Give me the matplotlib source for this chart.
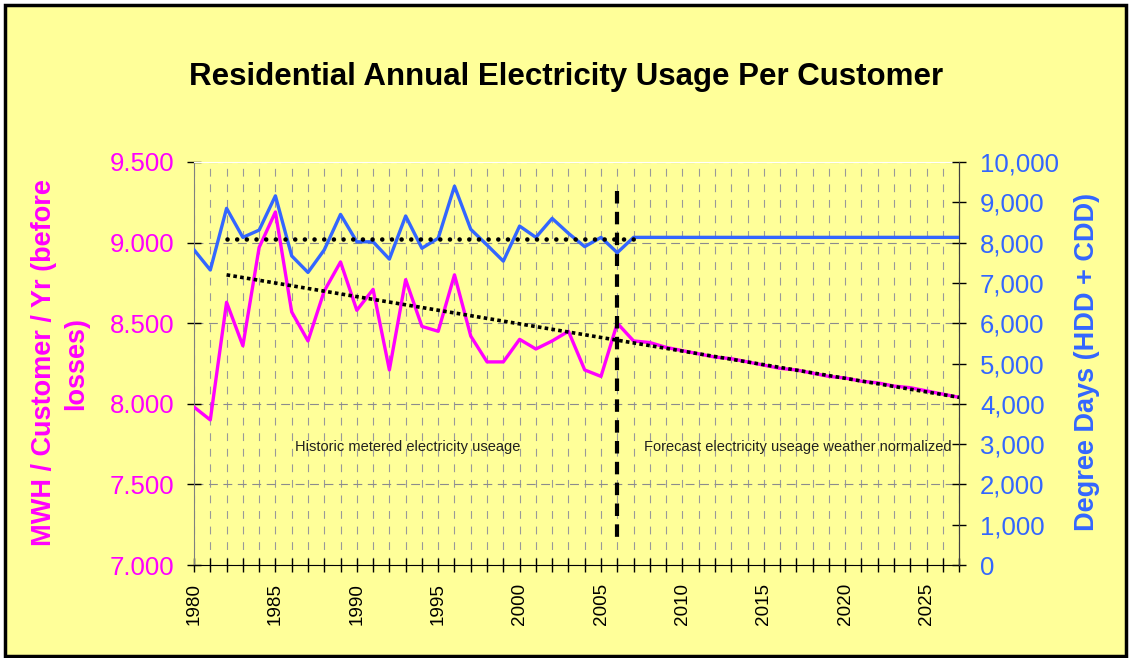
import matplotlib
matplotlib.use("Agg")
import matplotlib.pyplot as plt
from matplotlib.patches import Rectangle
from matplotlib.ticker import FuncFormatter

plt.rcParams['font.family'] = ['Liberation Sans', 'DejaVu Sans']

# data
years = list(range(1980, 2028))
usage = [7.98, 7.90, 8.63, 8.36, 8.97, 9.19, 8.57, 8.39, 8.70, 8.88,
         8.58, 8.71, 8.21, 8.77, 8.48, 8.45, 8.80, 8.42, 8.26, 8.26,
         8.40, 8.34, 8.39, 8.45, 8.21, 8.17, 8.50, 8.39,
         8.38, 8.35, 8.33, 8.31, 8.29, 8.28, 8.26, 8.24, 8.22, 8.21,
         8.19, 8.17, 8.16, 8.14, 8.13, 8.11, 8.10, 8.08, 8.06, 8.04]
degree_days = [7820, 7320, 8850, 8130, 8310, 9160, 7670, 7260, 7820, 8700,
               8020, 8020, 7590, 8660, 7860, 8110, 9400, 8330, 7940, 7540,
               8410, 8130, 8600, 8230, 7900, 8130, 7750, 8130,
               8130, 8130, 8130, 8130, 8130, 8130, 8130, 8130, 8130, 8130,
               8130, 8130, 8130, 8130, 8130, 8130, 8130, 8130, 8130, 8130]
trend_years = [1982, 2027]
trend_usage = [8.80, 8.04]
dd_avg_years = [1982, 2007]
dd_avg = [8080, 8080]
forecast_year = 2006
divider_range = [9.32, 7.16]

magenta = '#FF00FF'
blue = '#3366FF'
bg = '#FFFF99'

fig = plt.figure(figsize=(11.3, 6.58), dpi=100, facecolor='white')
fig.patches.append(Rectangle((0.004, 0.003), 0.9925, 0.99, transform=fig.transFigure,
                             facecolor=bg, edgecolor='black', linewidth=2.5, zorder=-1))

ax = fig.add_axes([0.1717, 0.1413, 0.6771, 0.6125])
ax.set_facecolor(bg)
ax2 = ax.twinx()

# left axis: usage
ax.plot(years, usage, color=magenta, linewidth=2.4, zorder=3)
ax.plot(trend_years, trend_usage, color='black', linewidth=2.6,
        linestyle=(0, (1, 0.9)), zorder=4)
ax.plot([forecast_year, forecast_year], divider_range, color='black', linewidth=3.0,
        linestyle=(0, (3, 2)), zorder=5)

# right axis: degree days
ax2.plot(years, degree_days, color=blue, linewidth=2.4, zorder=3)
ax2.plot(dd_avg_years, dd_avg, color='black', linewidth=3.3,
         linestyle=(0, (0.01, 2.1)), dash_capstyle='round', zorder=4)

ax.set_xlim(1980, 2027)
ax.set_ylim(7.0, 9.5)
ax2.set_ylim(0, 10000)

ax.set_xticks(years)
ax.set_xticklabels([str(y) if y % 5 == 0 else '' for y in years], rotation=90,
                   fontsize=13.6, color='black')
ax.set_yticks([7.0, 7.5, 8.0, 8.5, 9.0, 9.5])
ax.yaxis.set_major_formatter(FuncFormatter(lambda v, p: '{:.3f}'.format(v)))
ax.tick_params(axis='y', labelsize=18.5, labelcolor=magenta, direction='inout',
               length=10, width=1, pad=9)
ax.tick_params(axis='x', direction='inout', length=9.5, width=1, pad=8)

ax2.set_yticks(range(0, 10001, 1000))
ax2.yaxis.set_major_formatter(FuncFormatter(lambda v, p: '{:,.0f}'.format(v)))
ax2.tick_params(axis='y', labelsize=18.5, labelcolor=blue, direction='inout',
                length=10, width=1, pad=10)

# grid
ax.grid(axis='x', color='#999999', linewidth=0.8, linestyle=(0, (7, 7)))
ax.grid(axis='y', color='#8C8C8C', linewidth=0.8, linestyle=(0, (8, 5)))
ax.set_axisbelow(True)

ax.spines['top'].set_color('white')
ax.spines['left'].set_color('#808080')
ax.spines['right'].set_color('#404040')
ax.spines['bottom'].set_color('black')
for s in ax2.spines.values():
    s.set_visible(False)
ax2.spines['right'].set_visible(True)
ax2.spines['right'].set_color('#404040')

# annotations
ax.text(1993.1, 7.734, 'Historic metered electricity useage', fontsize=10.5,
        ha='center', va='center', color='#202020')
ax.text(2017.1, 7.734, 'Forecast electricity useage weather normalized', fontsize=10.5,
        ha='center', va='center', color='#202020')

fig.text(0.501, 0.883, 'Residential Annual Electricity Usage Per Customer',
         fontsize=22.5, fontweight='bold', ha='center', va='center')
fig.text(0.053, 1 - 363 / 658, 'MWH / Customer / Yr (before\nlosses)', fontsize=19.5,
         fontweight='bold', color=magenta, rotation=90, ha='center', va='center',
         multialignment='center', linespacing=1.3)
fig.text(0.962, 1 - 362 / 658, 'Degree Days (HDD + CDD)', fontsize=19.5,
         fontweight='bold', color=blue, rotation=90, ha='center', va='center')

fig.savefig('out.png', dpi=100, facecolor=fig.get_facecolor())
